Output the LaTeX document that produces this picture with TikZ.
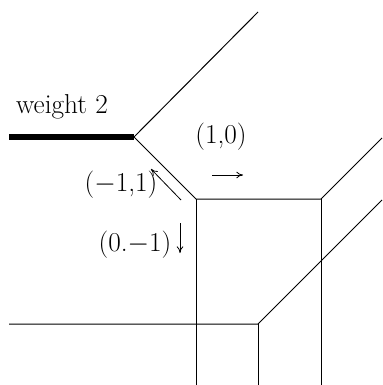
\documentclass[tikz,border=0pt]{standalone}
\usepackage{amsmath}
\usetikzlibrary{arrows.meta, positioning}

\begin{document}
\begin{tikzpicture}[
    x=0.75pt, y=-0.75pt,
    > = {To[length=5pt, width=5pt]},
    edge/.style={draw=black, line width=0.75pt},
    heavy/.style={draw=black, line width=4.5pt},
    dir/.style={->, draw=black, line width=0.6pt},
    lbl/.style={font=\fontsize{20.5}{24}\selectfont, inner sep=0pt}
]
    \useasboundingbox (0,0) rectangle (382,385);

    % 1. Vertices of the curve
    \coordinate (va) at (134,137);
    \coordinate (vb) at (196,199);
    \coordinate (vc) at (321,199);
    \coordinate (vd) at (258,324);

    % Free ends of the rays
    \coordinate (wl) at (9,137);
    \coordinate (ta) at (258,12);
    \coordinate (rc) at (382,138);
    \coordinate (rd) at (382,200);
    \coordinate (ld) at (9,324);
    \foreach \n/\x in {b/196, c/321, d/258} {
        \coordinate (bot\n) at (\x,385);
    }

    % 2. Edges and rays
    \draw[heavy] (wl) -- (va);
    \draw[edge] (va) -- (ta);
    \draw[edge] (va) -- (vb) -- (vc) -- (rc);
    \draw[edge] (vb) -- (botb);
    \draw[edge] (vc) -- (botc);
    \draw[edge] (ld) -- (vd) -- (rd);
    \draw[edge] (vd) -- (botd);

    % 3. Direction arrows
    \coordinate (a1s) at (212,175);
    \coordinate (a1e) at (243,175);
    \coordinate (a2s) at (181,200);
    \coordinate (a2e) at (151,169);
    \coordinate (a3s) at (180,223);
    \coordinate (a3e) at (180,253);
    \draw[dir] (a1s) -- (a1e);
    \draw[dir] (a2s) -- (a2e);
    \draw[dir] (a3s) -- (a3e);

    % 4. Labels
    \node[lbl] (wt) at (62,107) {weight 2};
    \node[lbl] (d10) at (221,137) {(1,0)};
    \node[lbl] (dm11) at (121,185) {($-$1,1)};
    \node[lbl] (d0m1) at (135,245) {(0.$-$1)};

\end{tikzpicture}
\end{document}
